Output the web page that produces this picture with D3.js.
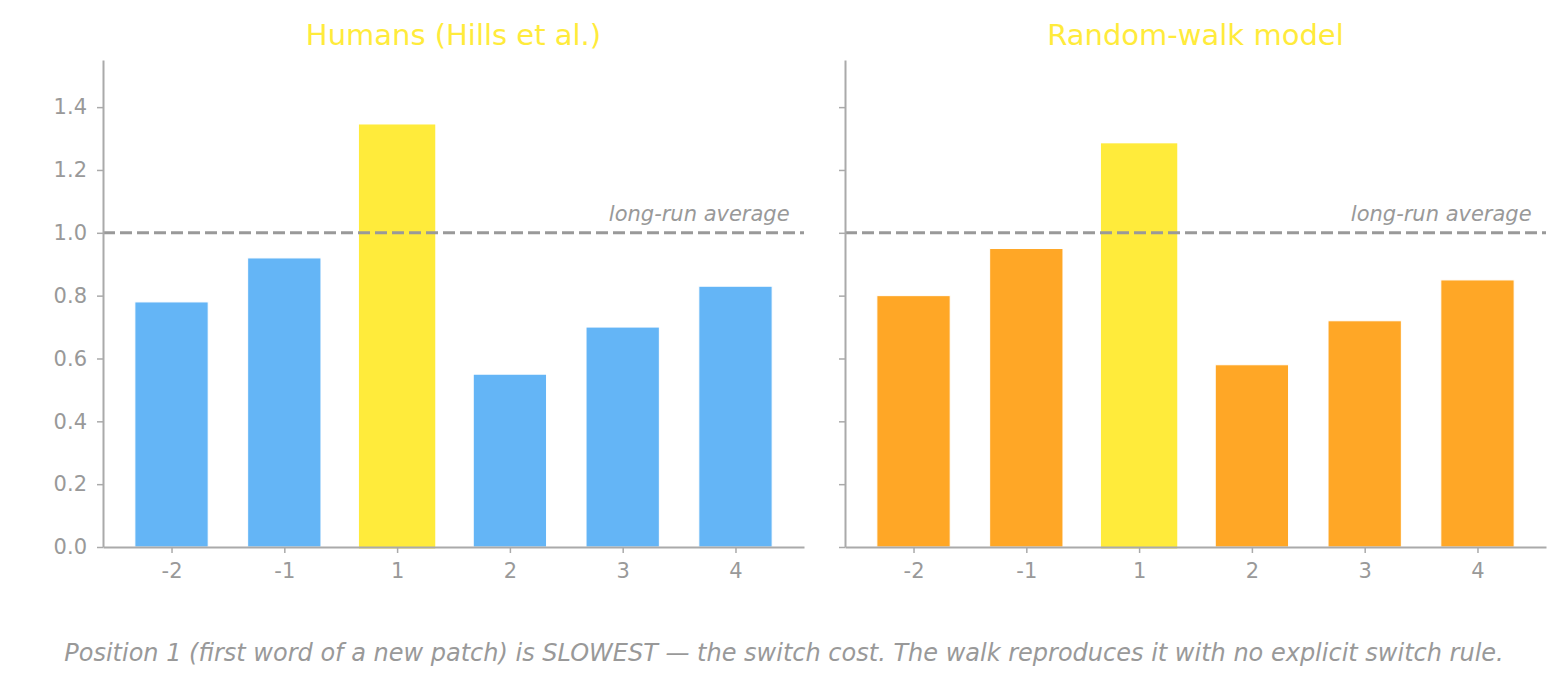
<!DOCTYPE html>
<html>
<head>
<meta charset="utf-8">
<script src="https://cdn.jsdelivr.net/npm/d3@7"></script>
<style>
  body { margin: 0; background: #fff; }
  text { font-family: "DejaVu Sans", sans-serif; }
</style>
</head>
<body>
<svg id="chart" width="1568" height="688"></svg>
<script>
// data
const positions = ["-2", "-1", "1", "2", "3", "4"];
const humans = [0.78, 0.92, 1.34, 0.55, 0.70, 0.83];
const walk = [0.80, 0.95, 1.28, 0.58, 0.72, 0.85];
const yTicks = [0.0, 0.2, 0.4, 0.6, 0.8, 1.0, 1.2, 1.4];
const panelTitles = ["Humans (Hills et al.)", "Random-walk model"];
const baseColors = ["#64B5F6", "#FFA726"];
const highlight = "1";
const longRun = 1.0;

const grey = "#999999";
const svg = d3.select("#chart");

const panels = [
  {title: panelTitles[0], values: humans, color: baseColors[0], left: 103, showLabels: true},
  {title: panelTitles[1], values: walk, color: baseColors[1], left: 845, showLabels: false}
];
const plotTop = 60, plotBottom = 547, plotW = 701;

const y = d3.scaleLinear().domain([0, 1.55]).range([plotBottom, plotTop]);

panels.forEach(p => {
  const x = d3.scaleLinear().domain([-0.6075, 5.6075]).range([p.left, p.left + plotW]);
  const bw = x(0.65) - x(0);
  const g = svg.append("g");

  // bars
  g.selectAll("rect.bar")
    .data(p.values)
    .enter().append("rect")
    .attr("class", "bar")
    .attr("x", (d, i) => x(i) - bw / 2)
    .attr("width", bw)
    .attr("y", d => y(d))
    .attr("height", d => y(0) - y(d))
    .attr("fill", (d, i) => positions[i] === highlight ? "#FFEB3B" : p.color)
    .attr("stroke", (d, i) => positions[i] === highlight ? "#FFEB3B" : "#fff")
    .attr("stroke-width", (d, i) => positions[i] === highlight ? 3 : 1);

  // long-run average line
  g.append("line")
    .attr("x1", x(-0.6075)).attr("x2", x(5.6075))
    .attr("y1", y(longRun)).attr("y2", y(longRun))
    .attr("stroke", grey)
    .attr("stroke-width", 3)
    .attr("stroke-dasharray", "12,5");

  g.append("text")
    .attr("x", x(5.48))
    .attr("y", y(1.037))
    .attr("text-anchor", "end")
    .attr("font-style", "italic")
    .attr("font-size", 21)
    .attr("fill", grey)
    .text("long-run average");

  // axes
  const xAxis = g.append("g")
    .attr("transform", "translate(0," + plotBottom + ")")
    .call(d3.axisBottom(x).tickValues(d3.range(positions.length))
      .tickFormat(i => positions[i]).tickSize(6).tickPadding(10).tickSizeOuter(0));
  const yAxis = g.append("g")
    .attr("transform", "translate(" + p.left + ",0)")
    .call(d3.axisLeft(y).tickValues(yTicks)
      .tickFormat(p.showLabels ? d3.format(".1f") : () => "")
      .tickSize(6).tickPadding(10).tickSizeOuter(0));

  [xAxis, yAxis].forEach(a => {
    a.select(".domain").attr("stroke", "#aaaaaa").attr("stroke-width", 2);
    a.selectAll(".tick line").attr("stroke", "#aaaaaa").attr("stroke-width", 1.5);
    a.selectAll(".tick text").attr("fill", grey).attr("font-size", 21)
      .attr("font-family", "DejaVu Sans");
  });

  g.append("text")
    .attr("x", p.left + plotW / 2)
    .attr("y", 45)
    .attr("text-anchor", "middle")
    .attr("font-size", 29)
    .attr("fill", "#FFEB3B")
    .text(p.title);
});

svg.append("text")
  .attr("x", 784)
  .attr("y", 661)
  .attr("text-anchor", "middle")
  .attr("font-style", "italic")
  .attr("font-size", 24)
  .attr("fill", grey)
  .text("Position 1 (first word of a new patch) is SLOWEST \u2014 the switch cost. The walk reproduces it with no explicit switch rule.");
</script>
</body>
</html>
